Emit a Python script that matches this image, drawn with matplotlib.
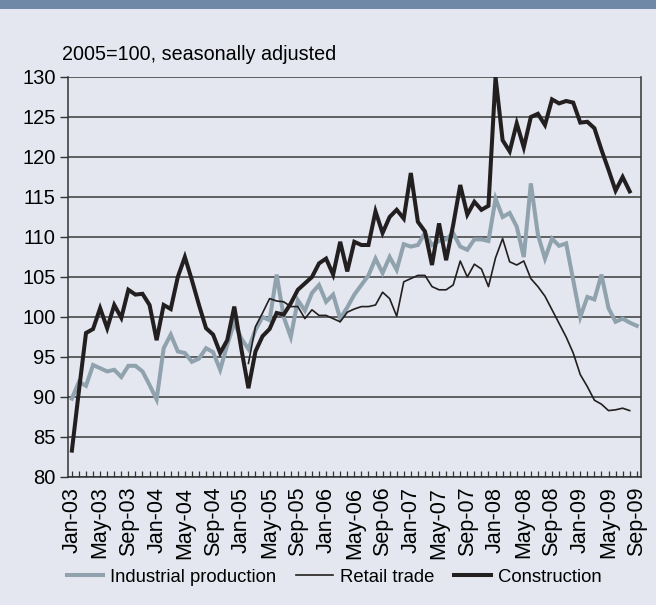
import numpy as np
import matplotlib.pyplot as plt
from matplotlib.lines import Line2D
from matplotlib.patches import Rectangle

plt.rcParams['font.family'] = ['Liberation Sans', 'DejaVu Sans']

# --------------- data (2005=100, seasonally adjusted) ---------------
month_names = ['Jan', 'Feb', 'Mar', 'Apr', 'May', 'Jun',
               'Jul', 'Aug', 'Sep', 'Oct', 'Nov', 'Dec']
months = [f"{m}-{y:02d}" for y in range(3, 10) for m in month_names][:81]

industrial = [89.8, 91.9, 91.4, 94.0, 93.6, 93.2, 93.4, 92.5, 93.9, 93.9, 93.2, 91.5,
              89.7, 96.1, 97.8, 95.7, 95.5, 94.4, 94.8, 96.1, 95.6, 93.4, 96.5, 99.3,
              97.3, 96.0, 98.4, 100.0, 99.6, 105.3, 100.0, 97.5, 102.1, 100.8, 103.0, 104.0,
              101.9, 102.8, 99.8, 101.2, 102.8, 104.0, 105.2, 107.3, 105.5, 107.5, 105.9, 109.1,
              108.8, 109.0, 110.5, 109.0, 109.5, 109.7, 110.5, 108.8, 108.4, 109.7, 109.7, 109.5,
              114.8, 112.5, 113.0, 111.3, 107.5, 116.7, 110.3, 107.3, 109.8, 108.9, 109.2, 104.6,
              100.0, 102.5, 102.2, 105.3, 101.1, 99.4, 99.8, 99.3, 98.9]

retail = [np.nan] * 25 + [
              94.2, 98.8, 100.5, 102.3, 102.0, 101.9, 101.3,
              101.3, 99.8, 100.9, 100.2, 100.2, 99.8, 99.4, 100.6, 101.0, 101.3, 101.3, 101.5,
              103.1, 102.3, 100.1, 104.4, 104.8, 105.2, 105.2, 103.8, 103.4, 103.4, 104.0, 107.0,
              105.0, 106.6, 106.0, 103.8, 107.4, 109.8, 106.9, 106.5, 107.0, 104.8, 103.8, 102.6,
              100.9, 99.2, 97.5, 95.5, 92.8, 91.3, 89.6, 89.1, 88.3, 88.4, 88.6, 88.3]

construction = [83.3, 90.8, 98.0, 98.5, 101.1, 98.6, 101.5, 99.9, 103.4, 102.8, 102.9, 101.5,
                97.1, 101.5, 101.0, 105.0, 107.5, 104.6, 101.5, 98.6, 97.8, 95.5, 97.1, 101.3,
                96.0, 91.1, 95.7, 97.6, 98.5, 100.5, 100.3, 101.7, 103.4, 104.2, 105.0, 106.7,
                107.3, 105.3, 109.4, 105.7, 109.4, 109.0, 109.0, 113.2, 110.5, 112.5, 113.4, 112.3,
                118.0, 111.9, 110.7, 106.5, 111.7, 107.1, 111.5, 116.5, 112.8, 114.4, 113.4, 113.9,
                130.0, 122.1, 120.7, 124.2, 121.2, 125.0, 125.4, 124.0, 127.2, 126.7, 127.0, 126.8,
                124.3, 124.4, 123.6, 120.9, 118.4, 115.8, 117.5, 115.7]

subtitle = '2005=100, seasonally adjusted'
series_names = ['Industrial production', 'Retail trade', 'Construction']

# --------------- styling ---------------
bg = '#e4e7ef'
band = '#7088a8'
c_ind = '#8fa2ad'
c_blk = '#231f20'

W, H = 656, 605
fig = plt.figure(figsize=(W / 100, H / 100), dpi=100, facecolor=bg)
fig.patches.append(Rectangle((0, 1 - 9 / H), 1, 9 / H, transform=fig.transFigure,
                             facecolor=band, edgecolor='none', zorder=0))

ax = fig.add_axes([68 / W, 1 - 477 / H, (641 - 68) / W, 400 / H])
ax.set_facecolor(bg)

x_ind = np.arange(len(industrial))
x_ret = np.arange(len(retail))
x_con = np.arange(len(construction))

ax.plot(x_ind, industrial, color=c_ind, lw=2.9, solid_joinstyle='miter', zorder=3)
ax.plot(x_ret, retail, color=c_blk, lw=1.2, zorder=4)
ax.plot(x_con, construction, color=c_blk, lw=2.9, solid_joinstyle='miter', zorder=5)

ax.set_ylim(80, 130)
ax.set_yticks(np.arange(80, 131, 5))
ax.set_xlim(-0.55, 80.6)
ax.set_xticks(np.arange(len(months)))
ax.set_xticklabels([m if i % 4 == 0 else '' for i, m in enumerate(months)],
                   rotation=90, fontsize=15.5)
ax.tick_params(axis='x', direction='in', length=4, width=0.9, color='#333333', pad=7)
ax.tick_params(axis='y', direction='out', length=6, width=1.0, color='#333333',
               labelsize=14.5, pad=3)

ax.grid(axis='y', color='#3a3a3a', lw=1.1)
ax.set_axisbelow(True)
for s in ['left', 'bottom', 'right']:
    ax.spines[s].set_color('#333333')
    ax.spines[s].set_linewidth(1.1)
ax.spines['top'].set_visible(False)

fig.text(62 / W, 1 - 55 / H, subtitle, fontsize=14.2, va='center', ha='left')

handles = [Line2D([], [], color=c_ind, lw=2.9),
           Line2D([], [], color=c_blk, lw=1.2),
           Line2D([], [], color=c_blk, lw=2.9)]
fig.legend(handles, series_names, loc='center', bbox_to_anchor=(334 / W, 1 - 577 / H),
           ncol=3, frameon=False, fontsize=13.3, handlelength=2.0,
           handletextpad=0.35, columnspacing=1.1)

fig.savefig('out.png', dpi=100, facecolor=bg)
